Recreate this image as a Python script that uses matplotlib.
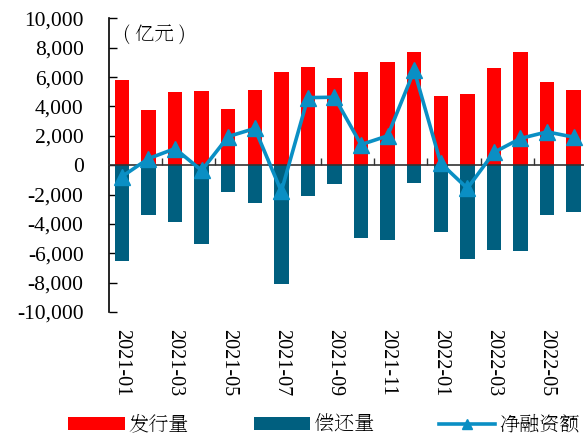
import matplotlib
matplotlib.use("Agg")
import matplotlib.pyplot as plt
from matplotlib import font_manager
import numpy as np

months = ["2021-01", "2021-02", "2021-03", "2021-04", "2021-05", "2021-06",
          "2021-07", "2021-08", "2021-09", "2021-10", "2021-11", "2021-12",
          "2022-01", "2022-02", "2022-03", "2022-04", "2022-05", "2022-06"]
issuance = [5800, 3780, 5000, 5020, 3830, 5110, 6370, 6690, 5920, 6330, 7050, 7700,
            4710, 4840, 6640, 7700, 5680, 5110]
repayment = [-6550, -3380, -3850, -5400, -1850, -2590, -8100, -2090, -1280, -4980, -5090, -1190,
             -4530, -6420, -5790, -5860, -3380, -3180]
net_financing = [-780, 450, 1130, -360, 1950, 2500, -1780, 4600, 4630, 1400, 2000, 6450,
                 130, -1580, 870, 1820, 2270, 1910]

RED = "#FF0000"
TEAL = "#005F7F"
BLUE = "#0A8FC4"

names = {f.name for f in font_manager.fontManager.ttflist}
serif = "Liberation Serif" if "Liberation Serif" in names else "DejaVu Serif"
cjk_first = "Noto Serif SC" if "Noto Serif SC" in names else "Noto Sans CJK SC"
CJK = [cjk_first, 'Noto Sans CJK SC', 'DejaVu Sans']
plt.rcParams['font.family'] = [serif, cjk_first, 'DejaVu Sans']

fig = plt.figure(figsize=(5.84, 4.37), dpi=100)
ax = fig.add_axes([0.186, 0.286, 0.819, 0.672])

x = np.arange(len(months))
w = 0.54
b1 = ax.bar(x, issuance, width=w, color=RED, label="发行量", zorder=2)
b2 = ax.bar(x, repayment, width=w, color=TEAL, label="偿还量", zorder=2)
l1, = ax.plot(x, net_financing, color=BLUE, lw=2.6, marker="^", markersize=12,
              label="净融资额", zorder=4)

ax.set_xlim(-0.5, len(months) - 0.5)
ax.set_ylim(-10000, 10000)
ax.set_yticks(np.arange(-10000, 10001, 2000))
ax.set_yticklabels([f"{v:,}" for v in range(-10000, 10001, 2000)],
                   family=serif, fontsize=15.5)
ax.tick_params(axis='y', direction='in', length=6, width=1, pad=18)

for s in ["top", "right"]:
    ax.spines[s].set_visible(False)
ax.spines["left"].set_linewidth(1.2)
ax.spines["bottom"].set_position(("data", 0))
ax.spines["bottom"].set_color("#333333")
ax.spines["bottom"].set_linewidth(1.2)
ax.spines["bottom"].set_zorder(3)

ax.set_xticks(np.arange(1.5, len(months) - 1, 2))
ax.set_xticklabels([])
ax.tick_params(axis='x', direction='in', length=5, width=1, color="#333333")

sec = ax.secondary_xaxis('bottom')
sec.set_xticks(x[::2])
sec.set_xticklabels(months[::2], rotation=-90, fontsize=14.5, family=serif)
sec.tick_params(length=0, pad=12)
sec.spines["bottom"].set_visible(False)

ax.text(0.03, 0.975, "( 亿元 )", transform=ax.transAxes, fontsize=14,
        ha="left", va="top", family=CJK)

fig.legend(handles=[b1, b2, l1], loc="center", bbox_to_anchor=(0.555, 0.028), ncol=3,
           frameon=False, prop={'family': CJK, 'size': 14.5},
           handlelength=2.8, handletextpad=0.2, columnspacing=3.2,
           handleheight=0.65, markerscale=0.6)

fig.savefig("out.png", dpi=100)
